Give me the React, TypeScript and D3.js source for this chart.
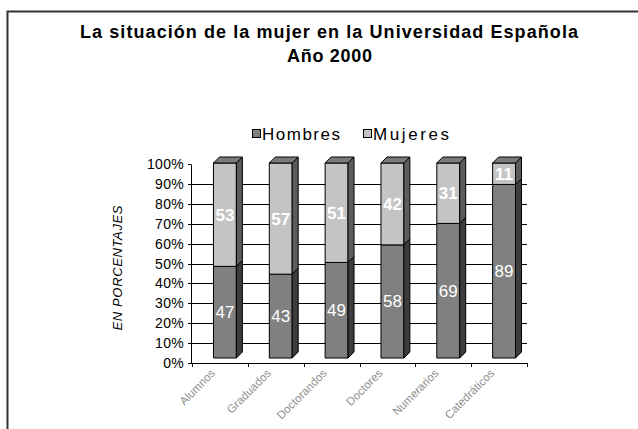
import * as d3 from "d3"

const categories = ["Alumnos", "Graduados", "Doctorandos", "Doctores", "Numerarios", "Catedráticos"]
const hombres = [47, 43, 49, 58, 69, 89]
const mujeres = [53, 57, 51, 42, 31, 11]
const yTicks = [0, 10, 20, 30, 40, 50, 60, 70, 80, 90, 100]

const W = 638
const H = 429
const depth = 6
const font = "'Liberation Sans', Arial, sans-serif"

const series = [
  { name: "Hombres", values: hombres, front: "#808080", side: "#3c3c3c", top: "#606060", bold: false },
  { name: "Mujeres", values: mujeres, front: "#c4c4c4", side: "#5c5c5c", top: "#7a7a7a", bold: true },
]

export default function App() {
  const x = d3.scaleBand<string>().domain(categories).range([192, 527])
  const y = d3.scaleLinear().domain([0, 100]).range([363, 164])
  // the bars stand in the middle of the floor, so they sit a bit up and right
  const yBar = d3.scaleLinear().domain([0, 100]).range([358, 163])
  const bw = x.bandwidth() * 0.41
  const barX = (c: string) => (x(c) ?? 0) + (x.bandwidth() - bw) / 2 + 5

  const stacked = d3
    .stack<number>()
    .keys(series.map((_, i) => String(i)))
    .value((i, k) => series[+k].values[i])(categories.map((_, i) => i))

  return (
    <svg
      width={W}
      height={H}
      viewBox={`0 0 ${W} ${H}`}
      style={{ position: "absolute", left: 0, top: 0, background: "#fff" }}
      fontFamily={font}
    >
      <path d={`M7.5,${H + 2} V11.5 H${W + 2}`} fill="none" stroke="#333" strokeWidth={2} />

      <text x={80} y={38} fontWeight="bold" fontSize={18} textLength={498} lengthAdjust="spacing">
        La situación de la mujer en la Universidad Española
      </text>
      <text x={287} y={62} fontWeight="bold" fontSize={18} textLength={85} lengthAdjust="spacing">
        Año 2000
      </text>

      <g fontSize={17}>
        <rect x={252.5} y={129.5} width={8} height={8} fill={series[0].front} stroke="#000" />
        <text x={262} y={140} textLength={78} lengthAdjust="spacing">Hombres</text>
        <rect x={363.5} y={129.5} width={8} height={8} fill={series[1].front} stroke="#000" />
        <text x={373} y={140} textLength={76} lengthAdjust="spacing">Mujeres</text>
      </g>

      <text
        transform={`translate(122, 268) rotate(-90)`}
        textAnchor="middle"
        fontStyle="italic"
        fontSize={13}
        textLength={125}
        lengthAdjust="spacing"
      >
        EN PORCENTAJES
      </text>

      {/* gridlines */}
      <g stroke="#000" strokeWidth={1}>
        {yTicks
          .filter((t) => t > 0 && t < 100)
          .map((t) => (
            <line key={t} x1={191} x2={527} y1={Math.round(y(t)) + 0.5} y2={Math.round(y(t)) + 0.5} />
          ))}
      </g>

      {/* y axis */}
      <g fontSize={14}>
        <line x1={191.5} x2={191.5} y1={Math.round(y(100)) + 0.5} y2={y(0)} stroke="#000" />
        {yTicks.map((t) => (
          <g key={t} transform={`translate(0, ${Math.round(y(t)) + 0.5})`}>
            <line x1={188} x2={191} stroke="#000" />
            <text x={184} dy="0.35em" textAnchor="end" letterSpacing={0.3}>
              {t}%
            </text>
          </g>
        ))}
      </g>

      {/* bars */}
      {categories.map((c, i) => {
        const x0 = barX(c)
        return (
          <g key={c} stroke="#000" strokeWidth={1} strokeLinejoin="round">
            {stacked.map((layer, k) => {
              const s = series[k]
              const yb = yBar(layer[i][0])
              const yt = yBar(layer[i][1])
              const isTop = k === stacked.length - 1
              return (
                <g key={k}>
                  <rect x={x0} y={yt} width={bw} height={yb - yt} fill={s.front} />
                  <path
                    d={`M${x0 + bw},${yb} L${x0 + bw + depth},${yb - depth} L${x0 + bw + depth},${yt - depth} L${x0 + bw},${yt} Z`}
                    fill={s.side}
                  />
                  {isTop && (
                    <path
                      d={`M${x0},${yt} L${x0 + depth},${yt - depth} L${x0 + bw + depth},${yt - depth} L${x0 + bw},${yt} Z`}
                      fill={s.top}
                    />
                  )}
                </g>
              )
            })}
          </g>
        )
      })}

      {/* value labels */}
      {categories.map((c, i) => (
        <g key={c}>
          {stacked.map((layer, k) => (
            <text
              key={k}
              x={barX(c) + bw / 2}
              y={(yBar(layer[i][0]) + yBar(layer[i][1])) / 2}
              dy="0.35em"
              textAnchor="middle"
              fill="#fff"
              fontSize={17}
              fontWeight={series[k].bold ? "bold" : "normal"}
            >
              {series[k].values[i]}
            </text>
          ))}
        </g>
      ))}

      {/* x axis */}
      <line x1={191} x2={528} y1={363.5} y2={363.5} stroke="#000" />
      {d3.range(categories.length + 1).map((i) => {
        const tx = Math.round(192 + i * x.step()) + 0.5
        return <line key={i} x1={tx} x2={tx} y1={363} y2={367} stroke="#000" />
      })}
      {categories.map((c) => (
        <text
          key={c}
          transform={`translate(${(x(c) ?? 0) + x.bandwidth() / 2 - 4}, 374) rotate(-45)`}
          textAnchor="end"
          fontSize={11.5}
          fill="#8f8f8f"
        >
          {c}
        </text>
      ))}
    </svg>
  )
}
